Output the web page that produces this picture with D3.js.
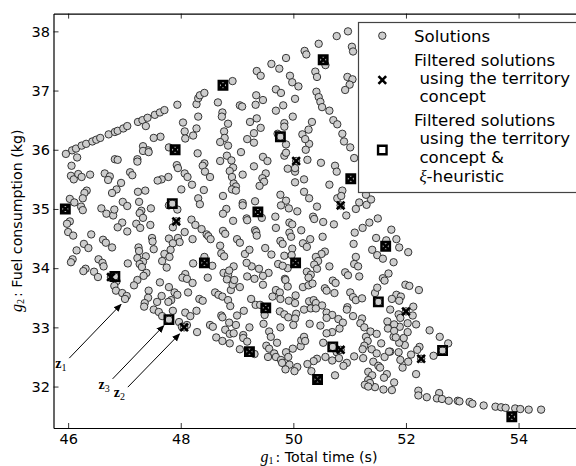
<!DOCTYPE html>
<html>
<head>
<meta charset="utf-8">
<script src="https://d3js.org/d3.v7.min.js"></script>
<style>
  html, body { margin: 0; padding: 0; background: #fff; overflow: hidden; }
  text { font-family: "DejaVu Sans", sans-serif; fill: #000; }
  .math { font-family: "Liberation Serif", serif; }
</style>
</head>
<body>
<svg id="chart" width="576" height="466"></svg>
<script>
// g1 (s), g2 (kg)
const solutions = [
[46.07,35.99],[46.14,36.02],[46.24,36.07],[46.32,36.10],[46.43,36.14],[46.50,36.17],[46.57,36.20],[46.72,36.26],[46.83,36.30],[46.88,36.32],
[46.98,36.36],[47.05,36.40],[47.24,36.47],[47.32,36.50],[47.41,36.54],[47.54,36.59],[47.63,36.63],[47.71,36.67],[47.38,36.40],[47.94,36.76],
[48.04,36.46],[48.28,36.77],[48.31,36.87],[48.34,36.92],[48.42,36.96],[48.66,36.80],[48.31,36.56],[48.28,36.36],[48.07,36.31],[48.22,36.24],
[48.08,36.19],[48.74,36.63],[48.73,36.56],[48.84,36.44],[48.77,36.31],[48.78,36.20],[48.70,36.13],[48.84,36.07],[47.64,36.22],[47.52,36.20],
[47.33,36.06],[47.42,35.99],[47.79,36.04],
[45.96,35.93],[46.16,35.87],[46.06,35.73],[46.05,35.56],[46.10,35.50],[46.18,35.59],[46.24,35.54],[46.39,35.58],[46.65,35.60],[46.74,35.55],
[46.71,35.49],[46.83,35.84],[46.88,35.83],[47.23,35.84],[47.23,35.80],[47.10,35.62],[47.14,35.57],[47.33,35.98],[47.43,35.96],[48.30,35.94],
[48.42,35.77],[48.39,35.73],[48.43,35.63],[48.52,35.54],[48.70,35.81],[48.82,35.90],[47.93,35.74],[47.95,35.69],[48.07,35.60],[48.12,35.54],
[47.78,35.54],[47.66,35.50],[47.59,35.48],[48.20,35.41],[48.01,35.33],[48.41,35.32],[48.75,35.22],[46.94,35.44],[46.86,35.33],[46.78,35.27],
[47.24,35.29],[47.37,35.31],[46.33,35.31],[46.29,35.27],[46.26,35.18],[46.03,35.17],[46.11,35.11],[46.23,35.04],[46.26,34.98],[46.97,35.12],
[47.05,35.05],[47.26,35.12],[46.59,35.01],[46.68,34.92],[46.80,34.89],[46.82,34.99],[47.47,35.01],[47.30,34.97],[47.27,34.93],[47.33,34.85],
[46.96,34.77],[46.88,34.69],[47.05,34.62],[47.21,34.75],[47.28,34.68],[47.46,34.73],[47.79,35.06],[47.94,34.99],[48.31,35.18],[48.34,35.08],
[48.81,35.00],[48.75,34.92],[47.86,34.69],[48.19,34.82],[48.26,34.73],[48.37,34.66],[48.46,34.57],[48.49,34.54],[48.53,34.49],[48.07,34.61],
[48.21,34.49],[47.79,34.50],[47.95,34.51],[47.98,34.44],[47.86,34.42],[47.82,34.31],[47.71,34.24],[47.80,34.19],[47.67,34.12],[47.75,34.01],
[47.49,34.51],[47.50,34.45],[47.52,34.32],[48.75,34.63],[48.79,34.58],[48.70,34.38],[48.72,34.25],[48.77,34.20],[46.03,34.79],[45.98,34.75],
[46.00,34.61],[46.09,34.55],[46.41,34.57],[46.62,34.48],[46.67,34.43],[46.78,34.35],[46.28,34.41],[46.36,34.34],[46.15,34.30],[46.08,34.15],
[46.05,34.10],[46.54,34.15],[46.61,34.09],[46.63,34.03],[46.31,33.99],[46.27,33.95],[46.46,33.94],[46.53,33.85],[47.25,34.35],[47.26,34.29],
[47.38,34.20],[47.23,34.17],[47.33,34.11],[47.27,34.07],[47.31,34.02],[47.06,34.08],[47.39,33.92],[47.23,33.80],[48.22,34.08],[48.42,34.19],
[48.56,34.04],[48.08,33.90],[48.03,33.84],[48.48,33.84],[48.76,33.92],[48.84,33.89],
[49.07,35.96],[49.30,36.12],[49.87,36.09],[50.28,36.10],[50.22,36.00],[49.84,35.90],[49.87,35.95],[50.25,35.83],[50.49,35.78],[50.74,35.73],
[50.77,35.63],[50.90,36.14],[51.01,36.04],[51.08,35.86],[48.90,35.82],[48.93,35.70],[48.87,35.64],[48.91,35.54],[49.10,35.58],[48.94,35.43],
[48.98,35.38],[48.91,35.33],[48.98,35.31],[49.46,35.88],[49.54,35.81],[49.30,35.72],[49.51,35.60],[49.45,35.52],[49.48,35.46],[49.40,35.39],
[49.90,35.68],[50.03,35.63],[50.03,35.69],[50.03,35.45],[50.19,35.50],[50.64,35.41],[50.19,35.29],[50.28,35.18],[49.77,35.24],[49.87,35.14],
[49.78,35.06],[49.92,35.01],[50.07,34.96],[50.42,35.04],[49.10,35.10],[49.10,35.06],[49.32,35.13],[49.44,34.85],[48.93,34.80],[49.17,34.84],
[49.18,34.81],[49.68,34.87],[49.69,34.68],[49.93,34.77],[49.98,34.74],[49.93,34.60],[49.96,34.53],[50.14,34.64],[50.35,34.87],[50.37,34.83],
[50.53,34.78],[50.72,34.74],[50.78,35.18],[50.87,35.31],[50.85,35.22],[50.94,34.89],[51.11,35.00],[51.17,35.11],[51.30,35.07],[51.38,35.16],
[51.29,35.24],[51.50,34.84],[51.35,34.77],[51.23,34.68],[51.09,34.60],[51.74,34.65],[51.47,34.51],[51.83,34.49],[51.65,34.47],[51.07,34.41],
[51.40,34.31],[51.88,34.35],[52.04,34.27],[51.49,34.22],[51.59,34.16],[51.78,34.10],[51.11,34.19],[51.08,34.07],[51.15,34.03],[50.52,34.53],
[50.30,34.49],[50.17,34.42],[50.24,34.36],[50.56,34.28],[50.50,34.24],[50.40,34.19],[50.44,34.12],[50.37,34.06],[50.42,33.99],[50.64,34.03],
[49.77,34.46],[49.81,34.41],[49.50,34.34],[49.61,34.23],[49.98,34.33],[49.84,34.21],[49.97,34.22],[49.90,34.00],[49.73,34.07],[49.81,34.04],
[49.39,33.99],[49.56,33.92],[49.46,33.87],[49.26,34.03],[49.17,34.09],[49.14,34.24],[49.22,34.31],[49.00,34.49],[49.05,34.43],[49.32,34.64],
[49.34,34.61],[49.35,34.55],[48.94,34.03],[48.86,33.96],[49.18,33.86],[49.31,33.82],[50.24,33.94],[50.31,33.89],[50.27,33.84],[49.85,33.82],
[50.92,33.93],[50.97,33.88],[51.17,33.86],[51.69,33.91],[51.59,33.83],[50.70,33.79],
[50.97,38.00],[50.77,37.92],[50.45,37.79],[51.04,37.74],[51.06,37.66],[50.20,37.67],[50.23,37.61],[49.87,37.55],[49.61,37.45],[49.75,37.37],
[50.57,37.43],[49.35,37.33],[49.42,37.25],[49.94,37.25],[50.39,37.32],[50.42,37.23],[50.96,37.23],[51.05,37.19],[51.00,37.10],[50.92,37.01],
[49.98,37.14],[50.09,37.07],[48.92,37.16],[49.69,37.02],[49.78,36.96],[50.03,36.86],[50.41,36.98],[50.45,36.89],[50.48,36.81],[50.51,36.72],
[50.64,36.66],[50.71,36.50],[50.78,36.43],[50.87,36.27],[49.34,36.92],[49.46,36.84],[49.33,36.76],[49.05,36.75],[49.09,36.73],[49.82,36.75],
[49.69,36.66],[49.99,36.56],[49.84,36.45],[49.84,36.39],[50.33,36.47],[50.27,36.34],[50.16,36.26],[50.21,36.18],[49.35,36.53],[49.23,36.47],
[49.42,36.37],[49.30,36.28],[49.18,36.18],[49.72,36.27],
[51.99,33.72],[52.06,33.70],[52.23,33.63],[51.83,33.55],[51.91,33.52],[51.75,33.48],[51.72,33.30],[52.13,33.35],[51.87,33.22],[52.12,33.20],
[51.90,33.16],[52.03,33.07],[52.18,33.05],[51.79,33.03],[51.89,33.01],[52.42,32.95],[52.60,32.84],[52.75,32.73],[52.49,32.52],[52.24,32.67],
[52.20,32.62],[52.09,32.54],[52.04,32.42],[51.90,32.45],[51.94,32.32],[51.87,32.58],[51.98,32.70],[51.88,32.74],[51.96,32.82],[52.03,32.92],
[51.78,32.84],[51.72,32.59],[52.18,32.21],[51.79,32.07],[51.75,31.94],[52.22,31.93],[52.22,31.85],[52.37,31.82],[52.59,31.89],[52.55,31.80],
[52.64,31.79],[52.76,31.76],[52.92,31.76],[52.95,31.75],[53.13,31.74],[53.18,31.71],[53.38,31.68],[53.59,31.66],[53.69,31.65],[53.77,31.64],
[53.94,31.63],[54.03,31.62],[54.18,31.61],[54.40,31.61],
[46.86,33.78],[46.82,33.70],[46.85,33.62],[46.96,33.58],[47.04,33.53],[47.01,33.48],[47.17,33.71],[47.34,33.87],[47.43,33.62],[47.42,33.50],
[47.36,33.41],[47.35,33.35],[47.58,33.43],[47.66,33.53],[47.63,33.76],[47.79,33.68],[47.89,33.59],[47.94,33.55],[47.83,33.46],[47.78,33.43],
[48.13,33.59],[48.11,33.82],[48.21,33.75],[47.52,33.30],[47.61,33.26],[47.67,33.19],[47.86,33.28],[48.08,33.25],[48.17,33.19],[48.28,33.28],
[47.97,33.09],[48.02,33.01],[48.11,33.04],[48.29,32.92],[48.33,33.48],[48.39,33.45],[48.61,33.59],[48.67,33.55],[48.74,33.52],[48.84,33.46],
[48.88,33.36],[48.72,33.20],[48.74,33.17],[48.86,33.08],[48.52,33.04],[48.57,33.01],[48.79,32.96],[48.87,32.89],[48.63,32.83],[48.74,32.77],
[48.87,32.73],[48.82,33.81],[48.89,33.63],
[48.98,33.04],[48.94,32.90],[49.12,33.28],[49.00,33.20],[49.22,33.00],[49.11,32.87],[49.11,32.82],[49.18,32.76],[49.05,32.63],[49.31,32.55],
[49.46,33.72],[48.92,33.72],[49.05,33.68],[48.95,33.80],[49.25,33.48],[49.33,33.38],[49.41,33.38],[49.49,33.21],[49.47,33.06],[49.57,32.93],
[49.60,32.84],[49.71,32.74],[49.52,32.69],[49.57,32.64],[49.66,32.56],[49.55,32.50],[49.69,32.50],[49.78,32.45],[49.80,32.40],[49.93,32.37],
[50.07,32.33],[49.86,32.29],[50.02,32.26],[49.77,33.00],[49.99,32.64],[49.87,32.58],[49.91,32.50],[50.13,32.68],[50.14,32.78],[50.19,32.84],
[50.21,32.77],[50.29,33.06],[50.48,33.03],[49.86,33.80],[49.90,33.69],[49.69,33.63],[49.76,33.59],[49.63,33.52],[49.77,33.48],[49.92,33.45],
[50.04,33.54],[50.03,33.41],[49.76,33.27],[49.84,33.22],[49.91,33.17],[50.05,33.23],[50.03,33.15],[50.00,33.04],[50.19,33.30],[50.28,33.44],
[50.36,33.46],[50.40,33.41],[50.51,33.37],[50.31,33.32],[50.40,33.32],[50.17,33.68],[50.27,33.71],[50.34,33.74],[50.56,33.66],[50.59,33.62],
[50.73,33.58],[50.75,33.75],[51.01,33.59],[51.06,33.51],[51.11,33.46],[51.22,33.49],[51.45,33.58],[51.49,33.67],[51.62,33.79],[51.88,33.45],
[51.67,33.10],[51.79,33.05],[51.68,32.98],[51.79,32.94],[51.82,32.83],[50.96,33.34],[50.95,33.30],[51.06,33.19],[51.22,33.15],[51.19,33.07],
[51.26,33.00],[51.37,32.93],[51.48,32.89],[51.29,32.84],[51.32,32.77],[51.56,32.73],[51.26,32.69],[51.23,32.63],[51.39,32.63],[51.48,32.56],
[51.62,32.50],[51.70,32.59],[51.08,32.51],[51.24,32.48],[51.42,32.42],[51.51,32.35],[51.54,32.32],[51.33,32.25],[51.40,32.19],[51.66,32.21],
[51.61,32.15],[51.60,31.95],[51.45,31.99],[51.33,32.11],[51.36,32.06],[51.27,32.03],[51.33,32.00],[50.59,33.25],[50.69,33.21],[50.59,33.16],
[50.80,33.14],[50.88,33.08],[50.82,32.98],[50.69,32.92],[50.59,32.90],[50.53,32.74],[50.77,32.58],[50.81,32.48],[50.69,32.44],[50.57,32.50],
[50.42,32.47],[50.36,32.43],[50.25,32.38],[50.32,32.26],[50.74,32.19],[50.95,32.40],[50.89,32.35]
];

// territory filter only
const territoryOnly = [[47.92,34.79],[50.05,35.81],[50.84,35.06],[52.00,33.27],[52.27,32.47],[48.06,33.00],[50.84,32.62],[46.76,33.85]];
// heuristic filter, also kept by the territory filter
const filteredBoth = [[48.75,37.09],[50.53,37.52],[47.90,36.00],[45.95,35.00],[51.02,35.51],[48.42,34.09],[49.37,34.95],[51.64,34.37],[50.04,34.09],[49.51,33.33],[49.22,32.59],[50.43,32.12],[53.88,31.49]];
// heuristic squares where the grey dot still shows
const heuristicOnly = [[47.85,35.09],[46.83,33.86],[47.79,33.13],[49.77,36.22],[50.70,32.67],[51.51,33.43],[52.65,32.61]];

const xTicks = [46, 48, 50, 52, 54];
const yTicks = [32, 33, 34, 35, 36, 37, 38];

const pointers = [
  { name: '1', from: [46.02, 32.48], to: [46.94, 33.39] },
  { name: '3', from: [46.79, 32.13], to: [47.70, 33.03] },
  { name: '2', from: [47.06, 31.99], to: [47.98, 32.89] },
];

const legendFirst = ['Solutions'];
const legendSecond = ['Filtered solutions', ' using the territory', ' concept'];
const legendThird = ['Filtered solutions', ' using the territory', ' concept &'];

const svg = d3.select('#chart');
const x = d3.scaleLinear().domain([45.74, 55.02]).range([53.5, 576]);
const y = d3.scaleLinear().domain([31.3, 38.3]).range([428, 13.6]);

const xMark = d3.symbol().type(d3.symbolX).size(40);
const squareMark = d3.symbol().type(d3.symbolSquare).size(72);

function drawDots(g, data) {
  g.selectAll('circle.dot').data(data).enter().append('circle')
    .attr('class', 'dot')
    .attr('cx', (d) => x(d[0]))
    .attr('cy', (d) => y(d[1]))
    .attr('r', 3.7)
    .attr('fill', '#cdcdcd')
    .attr('stroke', '#222')
    .attr('stroke-width', 0.9);
}

function drawMarks(g, data, symbol, cls, width) {
  g.selectAll('path.' + cls).data(data).enter().append('path')
    .attr('class', cls)
    .attr('transform', (d) => `translate(${x(d[0])},${y(d[1])})`)
    .attr('d', symbol)
    .attr('fill', 'none')
    .attr('stroke', '#000')
    .attr('stroke-width', width);
}

const plot = svg.append('g');
drawDots(plot, solutions.concat(territoryOnly, filteredBoth, heuristicOnly));
drawMarks(plot, territoryOnly.concat(filteredBoth), xMark, 'cross', 2.6);
drawMarks(plot, filteredBoth.concat(heuristicOnly), squareMark, 'box', 2.4);

// axes, ticks point inward
const styleAxis = (g) => {
  g.selectAll('.domain').attr('stroke', '#000').attr('stroke-width', 1.2);
  g.selectAll('.tick line').attr('stroke', '#000').attr('stroke-width', 0.8);
  g.selectAll('.tick text').style('font-size', '14.5px').style('font-family', '"DejaVu Sans", sans-serif');
};
svg.append('g').attr('transform', 'translate(0,428)')
  .call(d3.axisBottom(x).tickValues(xTicks).tickFormat(d3.format('d')).tickSizeOuter(0).tickSizeInner(-5).tickPadding(5.7))
  .call(styleAxis);
svg.append('g').attr('transform', 'translate(0,13.6)')
  .call(d3.axisTop(x).tickValues(xTicks).tickFormat('').tickSizeOuter(0).tickSizeInner(-5))
  .call(styleAxis);
svg.append('g').attr('transform', 'translate(53.5,0)')
  .call(d3.axisLeft(y).tickValues(yTicks).tickFormat(d3.format('d')).tickSizeOuter(0).tickSizeInner(-5).tickPadding(3.5))
  .call(styleAxis);

// annotation arrows
svg.append('defs').append('marker')
  .attr('id', 'head').attr('viewBox', '0 0 10 10').attr('refX', 9).attr('refY', 5)
  .attr('markerWidth', 8).attr('markerHeight', 8).attr('markerUnits', 'userSpaceOnUse').attr('orient', 'auto')
  .append('path').attr('d', 'M0,0.8L10,5L0,9.2Z').attr('fill', '#000');

svg.selectAll('line.pointer').data(pointers).enter().append('line')
  .attr('class', 'pointer')
  .attr('x1', (d) => x(d.from[0])).attr('y1', (d) => y(d.from[1]))
  .attr('x2', (d) => x(d.to[0])).attr('y2', (d) => y(d.to[1]))
  .attr('stroke', '#000').attr('stroke-width', 1)
  .attr('marker-end', 'url(#head)');

const ptLabel = svg.selectAll('text.ptlabel').data(pointers).enter().append('text')
  .attr('class', 'ptlabel math')
  .attr('x', (d) => x(d.from[0]) - 14)
  .attr('y', (d) => y(d.from[1]) + 10)
  .style('font-size', '14px')
  .style('font-weight', 'bold');
ptLabel.append('tspan').text('z');
ptLabel.append('tspan').attr('dy', 3).style('font-size', '10px').style('font-weight', 'normal').text((d) => d.name);

// axis titles
function mathTitle(sel, sub, rest) {
  sel.append('tspan').attr('class', 'math').style('font-style', 'italic').style('font-size', '16px').text('g');
  sel.append('tspan').attr('class', 'math').attr('dy', 2).style('font-size', '10px').text(sub);
  sel.append('tspan').attr('dy', -2).attr('dx', 2).style('font-size', '14.2px').text(rest);
}
svg.append('text').attr('x', 260.5).attr('y', 462)
  .call(mathTitle, '1', ': Total time (s)');
svg.append('text').attr('transform', 'translate(22,312) rotate(-90)')
  .call(mathTitle, '2', ': Fuel consumption (kg)');

// legend
const legend = svg.append('g');
legend.append('rect').attr('x', 358.5).attr('y', 22.5).attr('width', 230).attr('height', 170)
  .attr('fill', '#fff').attr('stroke', '#444').attr('stroke-width', 1.2);

function legendLines(lines, firstBaseline) {
  legend.selectAll(null).data(lines).enter().append('text')
    .attr('x', (d) => (d.startsWith(' ') ? 419.5 : 414))
    .attr('y', (d, i) => firstBaseline + i * 18.4)
    .style('font-size', '16.6px')
    .text((d) => d.trim());
}
legendLines(legendFirst, 41.5);
legendLines(legendSecond, 65.5);
legendLines(legendThird, 126);
const xiLine = legend.append('text').attr('x', 419.5).attr('y', 181.5).style('font-size', '16.6px');
xiLine.append('tspan').attr('class', 'math').style('font-style', 'italic').text('\u03be');
xiLine.append('tspan').text('-heuristic');

legend.append('circle').attr('cx', 382.3).attr('cy', 35.7).attr('r', 3.7)
  .attr('fill', '#cdcdcd').attr('stroke', '#222').attr('stroke-width', 0.9);
legend.append('path').attr('transform', 'translate(382.3,80)').attr('d', xMark)
  .attr('fill', 'none').attr('stroke', '#000').attr('stroke-width', 2.6);
legend.append('path').attr('transform', 'translate(382.3,150)').attr('d', squareMark)
  .attr('fill', '#fff').attr('stroke', '#000').attr('stroke-width', 2.4);
</script>
</body>
</html>
